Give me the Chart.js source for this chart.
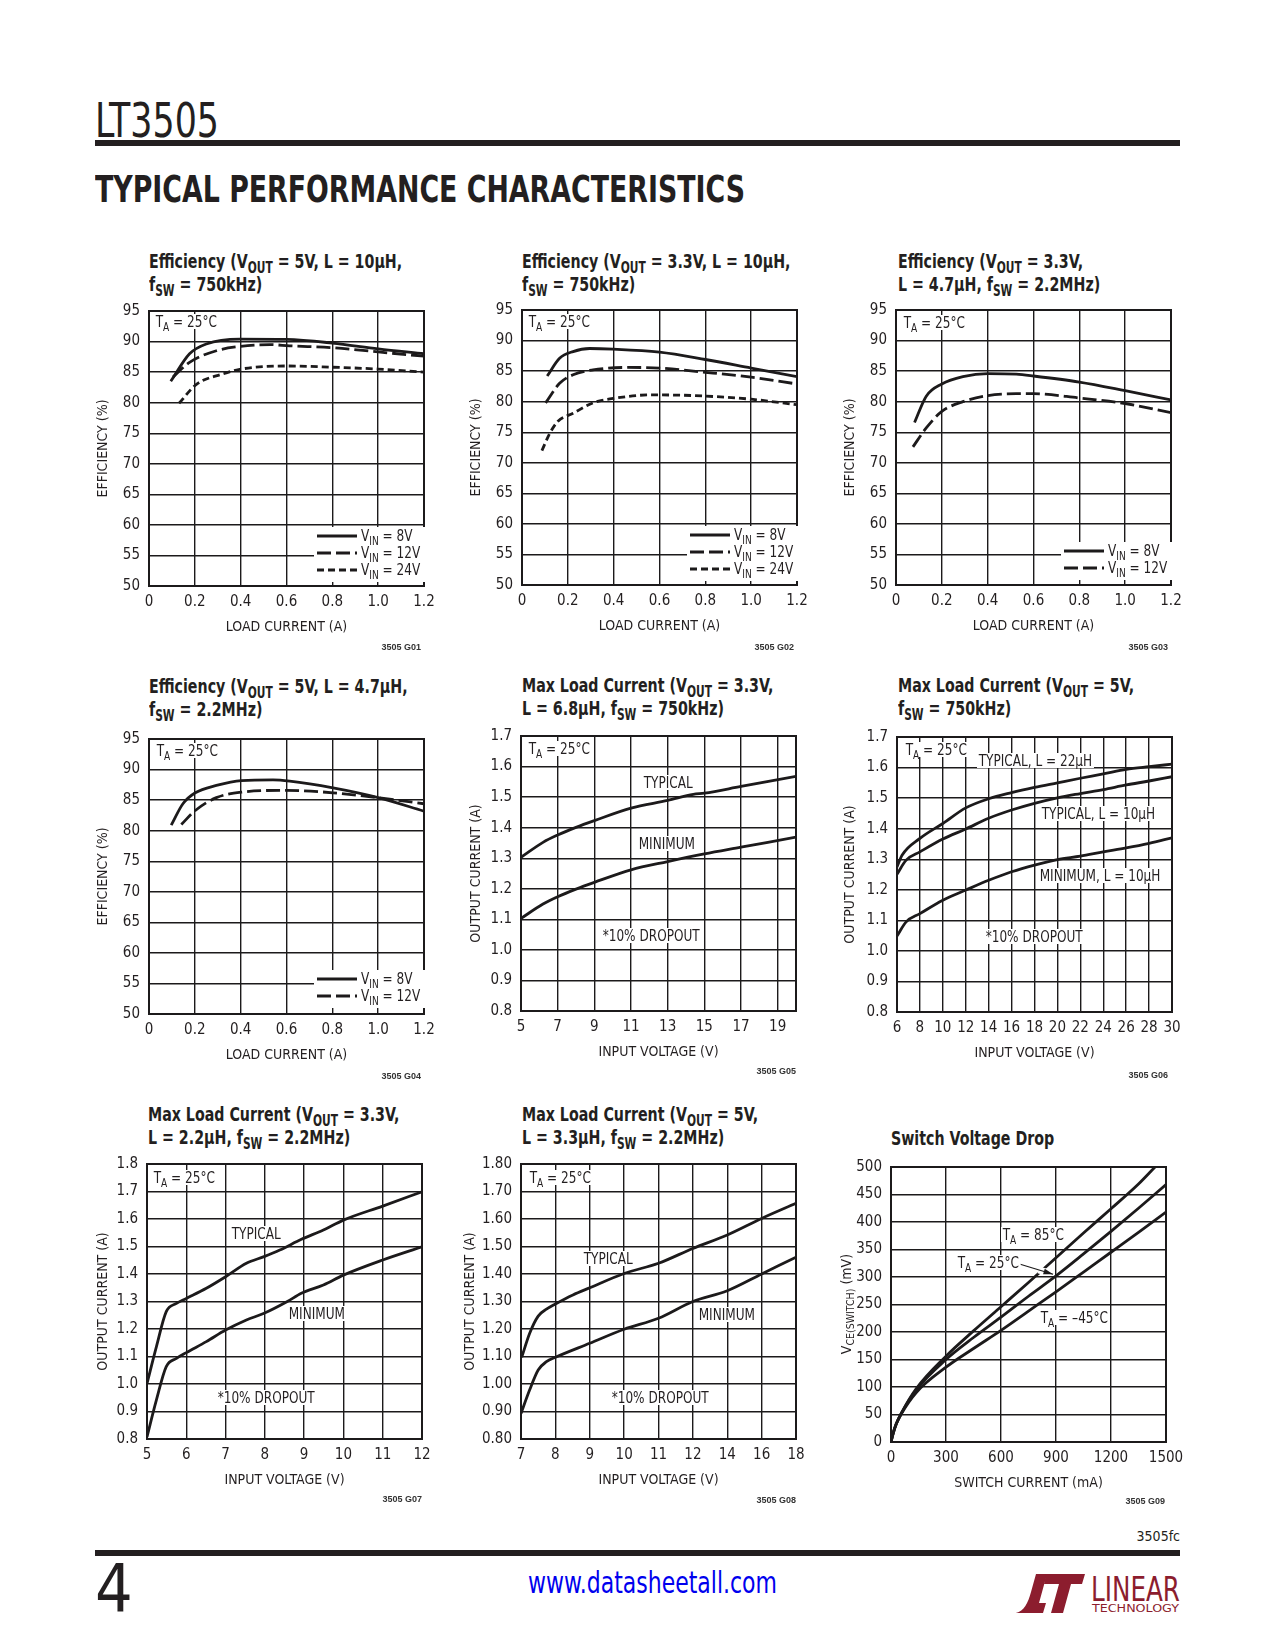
<!DOCTYPE html>
<html>
<head>
<meta charset="utf-8">
<script src="https://cdn.jsdelivr.net/npm/chart.js@4.4.0/dist/chart.umd.min.js"></script>
<style>
body { margin:0; background:#fff; width:1275px; height:1650px; position:relative; overflow:hidden;
       font-family:'Liberation Sans Narrow','DejaVu Sans Condensed','Arial Narrow',sans-serif; color:#231f20; }
.abs { position:absolute; white-space:nowrap; }
canvas { position:absolute; z-index:1; }
#over { position:absolute; left:0; top:0; width:1275px; height:1650px; z-index:10; }
sub { font-size:75%; vertical-align:-0.3em; line-height:0; }
.ttl { position:absolute; font-weight:bold; font-size:20px; line-height:23px; white-space:nowrap;
       transform:scaleX(0.79); transform-origin:0 0; }
.lab { position:absolute; font-size:16px; line-height:15px; background:#fff; padding:0 2px; white-space:nowrap;
       transform:scaleX(0.84); transform-origin:0 0; }
.leg { position:absolute; background:#fff; padding:0 3px 4px 3px; }
.leg div { height:17px; display:flex; align-items:center; font-size:16px; white-space:nowrap; }
.leg svg { margin-right:4px; flex:none; }
.leg span { display:inline-block; transform:scaleX(0.84); transform-origin:0 50%; margin-right:-8px; }
.fig { position:absolute; font-family:'Liberation Sans',Arial,sans-serif; font-weight:bold; font-size:9px; line-height:10px; color:#333; }
.ytl { position:absolute; font-size:14px; white-space:nowrap; transform:translate(-50%,-50%) rotate(-90deg); }
</style>
</head>
<body>

<div id="hdr" class="abs" style="left:95px;top:96px;font-size:48px;line-height:48px;">LT3505</div>
<div class="abs" style="left:95px;top:140px;width:1085px;height:6px;background:#231f20"></div>
<div id="sect" class="abs" style="left:95px;top:170px;font-family:'DejaVu Sans Condensed','DejaVu Sans',sans-serif;font-weight:bold;font-size:38px;line-height:38px;transform-origin:0 0;">TYPICAL PERFORMANCE CHARACTERISTICS</div>

<!-- chart titles -->
<div class="ttl" style="left:149px;top:250px">Efficiency (V<sub>OUT</sub> = 5V, L = 10µH,<br>f<sub>SW</sub> = 750kHz)</div>
<div class="ttl" style="left:522px;top:250px">Efficiency (V<sub>OUT</sub> = 3.3V, L = 10µH,<br>f<sub>SW</sub> = 750kHz)</div>
<div class="ttl" style="left:898px;top:250px">Efficiency (V<sub>OUT</sub> = 3.3V,<br>L = 4.7µH, f<sub>SW</sub> = 2.2MHz)</div>
<div class="ttl" style="left:149px;top:675px">Efficiency (V<sub>OUT</sub> = 5V, L = 4.7µH,<br>f<sub>SW</sub> = 2.2MHz)</div>
<div class="ttl" style="left:522px;top:674px">Max Load Current (V<sub>OUT</sub> = 3.3V,<br>L = 6.8µH, f<sub>SW</sub> = 750kHz)</div>
<div class="ttl" style="left:898px;top:674px">Max Load Current (V<sub>OUT</sub> = 5V,<br>f<sub>SW</sub> = 750kHz)</div>
<div class="ttl" style="left:148px;top:1103px">Max Load Current (V<sub>OUT</sub> = 3.3V,<br>L = 2.2µH, f<sub>SW</sub> = 2.2MHz)</div>
<div class="ttl" style="left:522px;top:1103px">Max Load Current (V<sub>OUT</sub> = 5V,<br>L = 3.3µH, f<sub>SW</sub> = 2.2MHz)</div>
<div class="ttl" style="left:891px;top:1127px">Switch Voltage Drop</div>

<canvas id="c1"></canvas><canvas id="c2"></canvas><canvas id="c3"></canvas>
<canvas id="c4"></canvas><canvas id="c5"></canvas><canvas id="c6"></canvas>
<canvas id="c7"></canvas><canvas id="c8"></canvas><canvas id="c9"></canvas>

<div id="over">
<!-- annotations -->
<div class="lab" style="left:154px;top:314px">T<sub>A</sub> = 25°C</div>
<div class="lab" style="left:527px;top:314px">T<sub>A</sub> = 25°C</div>
<div class="lab" style="left:902px;top:315px">T<sub>A</sub> = 25°C</div>
<div class="lab" style="left:155px;top:743px">T<sub>A</sub> = 25°C</div>
<div class="lab" style="left:527px;top:741px">T<sub>A</sub> = 25°C</div>
<div class="lab" style="left:904px;top:742px">T<sub>A</sub> = 25°C</div>
<div class="lab" style="left:152px;top:1170px">T<sub>A</sub> = 25°C</div>
<div class="lab" style="left:528px;top:1170px">T<sub>A</sub> = 25°C</div>

<div class="lab" style="left:642px;top:775px">TYPICAL</div>
<div class="lab" style="left:637px;top:836px">MINIMUM</div>
<div class="lab" style="left:601px;top:928px">*10% DROPOUT</div>

<div class="lab" style="left:977px;top:753px">TYPICAL, L = 22µH</div>
<div class="lab" style="left:1040px;top:806px">TYPICAL, L = 10µH</div>
<div class="lab" style="left:1038px;top:868px">MINIMUM, L = 10µH</div>
<div class="lab" style="left:984px;top:929px">*10% DROPOUT</div>

<div class="lab" style="left:230px;top:1226px">TYPICAL</div>
<div class="lab" style="left:287px;top:1306px">MINIMUM</div>
<div class="lab" style="left:216px;top:1390px">*10% DROPOUT</div>

<div class="lab" style="left:582px;top:1251px">TYPICAL</div>
<div class="lab" style="left:697px;top:1307px">MINIMUM</div>
<div class="lab" style="left:610px;top:1390px">*10% DROPOUT</div>

<div class="lab" style="left:1001px;top:1227px">T<sub>A</sub> = 85°C</div>
<div class="lab" style="left:956px;top:1255px">T<sub>A</sub> = 25°C</div>
<div class="lab" style="left:1039px;top:1310px">T<sub>A</sub> = –45°C</div>

<div class="ytl" style="left:846px;top:1304px">V<sub>CE(SWITCH)</sub> (mV)</div>

<!-- legends -->
<div class="leg" style="left:314px;top:527px">
  <div><svg width="40" height="4"><line x1="0" y1="2" x2="40" y2="2" stroke="#1c1a1b" stroke-width="3"/></svg><span>V<sub>IN</sub> = 8V</span></div>
  <div><svg width="40" height="4"><line x1="0" y1="2" x2="40" y2="2" stroke="#1c1a1b" stroke-width="3" stroke-dasharray="14 5"/></svg><span>V<sub>IN</sub> = 12V</span></div>
  <div><svg width="40" height="4"><line x1="0" y1="2" x2="40" y2="2" stroke="#1c1a1b" stroke-width="3" stroke-dasharray="7 4"/></svg><span>V<sub>IN</sub> = 24V</span></div>
</div>
<div class="leg" style="left:687px;top:526px">
  <div><svg width="40" height="4"><line x1="0" y1="2" x2="40" y2="2" stroke="#1c1a1b" stroke-width="3"/></svg><span>V<sub>IN</sub> = 8V</span></div>
  <div><svg width="40" height="4"><line x1="0" y1="2" x2="40" y2="2" stroke="#1c1a1b" stroke-width="3" stroke-dasharray="14 5"/></svg><span>V<sub>IN</sub> = 12V</span></div>
  <div><svg width="40" height="4"><line x1="0" y1="2" x2="40" y2="2" stroke="#1c1a1b" stroke-width="3" stroke-dasharray="7 4"/></svg><span>V<sub>IN</sub> = 24V</span></div>
</div>
<div class="leg" style="left:1061px;top:542px">
  <div><svg width="40" height="4"><line x1="0" y1="2" x2="40" y2="2" stroke="#1c1a1b" stroke-width="3"/></svg><span>V<sub>IN</sub> = 8V</span></div>
  <div><svg width="40" height="4"><line x1="0" y1="2" x2="40" y2="2" stroke="#1c1a1b" stroke-width="3" stroke-dasharray="14 5"/></svg><span>V<sub>IN</sub> = 12V</span></div>
</div>
<div class="leg" style="left:314px;top:970px">
  <div><svg width="40" height="4"><line x1="0" y1="2" x2="40" y2="2" stroke="#1c1a1b" stroke-width="3"/></svg><span>V<sub>IN</sub> = 8V</span></div>
  <div><svg width="40" height="4"><line x1="0" y1="2" x2="40" y2="2" stroke="#1c1a1b" stroke-width="3" stroke-dasharray="14 5"/></svg><span>V<sub>IN</sub> = 12V</span></div>
</div>

<!-- figure numbers -->
<div class="fig" style="right:854px;top:642px">3505 G01</div>
<div class="fig" style="right:481px;top:642px">3505 G02</div>
<div class="fig" style="right:107px;top:642px">3505 G03</div>
<div class="fig" style="right:854px;top:1071px">3505 G04</div>
<div class="fig" style="right:479px;top:1066px">3505 G05</div>
<div class="fig" style="right:107px;top:1070px">3505 G06</div>
<div class="fig" style="right:853px;top:1494px">3505 G07</div>
<div class="fig" style="right:479px;top:1495px">3505 G08</div>
<div class="fig" style="right:110px;top:1496px">3505 G09</div>
</div>

<!-- footer -->
<div class="abs" style="right:95px;top:1529px;font-size:14px;line-height:14px">3505fc</div>
<div class="abs" style="left:95px;top:1550px;width:1085px;height:6px;background:#231f20"></div>
<div class="abs" style="left:95px;top:1556px;font-size:66px;line-height:66px">4</div>
<div id="url" class="abs" style="left:528px;top:1568px;font-size:30px;line-height:30px;color:#0000ee;transform-origin:0 0">www.datasheetall.com</div>
<svg class="abs" style="left:1015px;top:1570px" width="166" height="44">
  <path d="M1,43 C9,41 13,33 16,22 L21,4 L32,4 L24,33 L31,33 L28,43 Z" fill="#8c1d2e"/>
  <path d="M31,4 L70,4 L67,14 L56,14 L48,43 L36,43 L44,14 L29,14 Z" fill="#8c1d2e"/>
  <text x="76" y="31" font-family="'Liberation Sans Narrow','DejaVu Sans Condensed',sans-serif" font-size="33" fill="#8c1d2e" textLength="89" lengthAdjust="spacingAndGlyphs">LINEAR</text>
  <text x="77" y="42" font-family="'Liberation Sans Narrow','DejaVu Sans Condensed',sans-serif" font-size="10" fill="#8c1d2e" textLength="87" lengthAdjust="spacingAndGlyphs">TECHNOLOGY</text>
</svg>

<script>
// ---- G01: efficiency, VOUT = 5V, L = 10uH, 750kHz
const g01Load8 = [0.095, 0.177, 0.25, 0.396, 0.6, 0.8, 1.0, 1.2];
const g01Eff8 = [83.5, 88.0, 89.6, 90.4, 90.35, 89.75, 88.8, 88.0];
const g01Load12 = [0.105, 0.177, 0.294, 0.396, 0.527, 0.614, 0.8, 1.0, 1.2];
const g01Eff12 = [84.2, 86.6, 88.5, 89.2, 89.5, 89.3, 89.0, 88.3, 87.6];
const g01Load24 = [0.131, 0.207, 0.323, 0.403, 0.6, 0.8, 1.0, 1.2];
const g01Eff24 = [79.9, 83.0, 84.7, 85.5, 86.0, 85.8, 85.5, 85.0];

// ---- G02: efficiency, VOUT = 3.3V, L = 10uH, 750kHz
const g02Load8 = [0.11, 0.164, 0.223, 0.295, 0.397, 0.6, 0.8, 1.0, 1.2];
const g02Eff8 = [84.2, 87.1, 88.2, 88.7, 88.6, 88.1, 86.9, 85.5, 84.1];
const g02Load12 = [0.103, 0.164, 0.223, 0.31, 0.455, 0.6, 0.8, 1.0, 1.2];
const g02Eff12 = [79.8, 83.0, 84.4, 85.2, 85.6, 85.5, 84.8, 84.0, 82.9];
const g02Load24 = [0.087, 0.121, 0.157, 0.223, 0.31, 0.412, 0.557, 0.746, 1.0, 1.2];
const g02Eff24 = [72.0, 74.8, 76.8, 78.1, 79.8, 80.6, 81.1, 81.0, 80.4, 79.5];

// ---- G03: efficiency, VOUT = 3.3V, L = 4.7uH, 2.2MHz
const g03Load8 = [0.081, 0.132, 0.2, 0.292, 0.401, 0.525, 0.6, 0.8, 1.0, 1.2];
const g03Eff8 = [76.6, 80.9, 82.9, 84.1, 84.6, 84.5, 84.2, 83.2, 81.8, 80.3];
const g03Load12 = [0.074, 0.132, 0.2, 0.292, 0.401, 0.525, 0.6, 0.8, 1.0, 1.2];
const g03Eff12 = [72.6, 75.7, 78.4, 80.0, 81.0, 81.3, 81.3, 80.6, 79.7, 78.2];

// ---- G04: efficiency, VOUT = 5V, L = 4.7uH, 2.2MHz
const g04Load8 = [0.097, 0.148, 0.202, 0.294, 0.403, 0.541, 0.614, 0.803, 1.0, 1.2];
const g04Eff8 = [80.9, 84.4, 86.2, 87.4, 88.2, 88.3, 88.1, 87.0, 85.4, 83.2];
const g04Load12 = [0.141, 0.202, 0.294, 0.403, 0.6, 0.803, 1.0, 1.2];
const g04Eff12 = [81.0, 83.3, 85.4, 86.3, 86.6, 86.2, 85.4, 84.4];

// ---- G05: max load current, VOUT = 3.3V, L = 6.8uH, 750kHz
const g05Vin = [5, 6.2, 7, 8, 9, 11, 13, 14.4, 15, 17, 20];
const g05Typ = [1.303, 1.352, 1.376, 1.401, 1.423, 1.464, 1.489, 1.509, 1.513, 1.535, 1.568];
const g05VinMin = [5, 6.2, 7, 8, 9, 11, 13, 15, 17, 20];
const g05Min = [1.103, 1.15, 1.174, 1.199, 1.221, 1.262, 1.289, 1.314, 1.336, 1.369];

// ---- G06: max load current, VOUT = 5V, 750kHz
const g06Vin22 = [6, 6.44, 8, 10, 12, 14, 16, 18, 20, 22, 24, 26, 28, 30];
const g06Typ22 = [1.275, 1.313, 1.368, 1.417, 1.468, 1.498, 1.518, 1.535, 1.55, 1.565, 1.579, 1.594, 1.603, 1.611];
const g06Vin10 = [6, 6.8, 8, 10, 12, 14, 16, 18, 20, 22, 24, 26, 28, 30];
const g06Typ10 = [1.251, 1.297, 1.324, 1.366, 1.399, 1.434, 1.461, 1.483, 1.501, 1.515, 1.528, 1.543, 1.556, 1.570];
const g06Min10 = [1.049, 1.095, 1.122, 1.166, 1.199, 1.231, 1.259, 1.281, 1.299, 1.31, 1.324, 1.337, 1.352, 1.370];

// ---- G07: max load current, VOUT = 3.3V, L = 2.2uH, 2.2MHz
const g07VinTyp = [5, 5.24, 5.49, 5.75, 6, 6.51, 7, 7.53, 7.98, 8.38, 8.93, 9.49, 10, 11, 12];
const g07Typ = [1.002, 1.136, 1.263, 1.293, 1.311, 1.348, 1.39, 1.439, 1.463, 1.487, 1.526, 1.56, 1.596, 1.647, 1.699];
const g07VinMin = [5, 5.24, 5.49, 5.75, 6, 6.51, 7, 7.53, 7.98, 8.56, 8.93, 9.49, 10, 11, 12];
const g07Min = [0.808, 0.942, 1.063, 1.093, 1.114, 1.154, 1.196, 1.233, 1.257, 1.299, 1.33, 1.36, 1.396, 1.451, 1.499];

// ---- G08: max load current, VOUT = 5V, L = 3.3uH, 2.2MHz (uneven voltage axis)
const g08VinTyp = [7.02, 7.25, 7.5, 7.74, 8, 8.51, 9, 10, 11, 12, 14, 16, 18];
const g08Typ = [1.097, 1.184, 1.247, 1.272, 1.291, 1.324, 1.35, 1.402, 1.439, 1.493, 1.542, 1.602, 1.657];
const g08VinMin = [7, 7.25, 7.5, 7.74, 8, 9, 10, 11, 12, 14, 16, 18];
const g08Min = [0.893, 0.978, 1.051, 1.081, 1.097, 1.148, 1.199, 1.239, 1.3, 1.339, 1.4, 1.461];

// ---- G09: switch voltage drop
const g09I85 = [0, 11, 29, 56, 138, 300, 450, 600, 750, 900, 1050, 1200, 1350, 1440];
const g09V85 = [0, 15, 33, 52, 97, 156, 202, 246, 290, 335, 380, 424, 469, 500];
const g09I = [0, 11, 29, 56, 138, 300, 450, 600, 750, 900, 1050, 1200, 1350, 1500];
const g09V25 = [0, 15, 33, 52, 95, 150, 190, 227, 265, 302, 342, 383, 425, 468];
const g09Vm45 = [0, 15, 33, 51, 90, 136, 170, 203, 238, 273, 309, 345, 381, 418];
const g09ArrowFrom = [687, 325];
const g09ArrowTo = [884, 305];

// ---- ticks
const effTicksX = [0, 0.2, 0.4, 0.6, 0.8, 1.0, 1.2];
const effLabelsX = ['0', '0.2', '0.4', '0.6', '0.8', '1.0', '1.2'];
const effTicksY = [50, 55, 60, 65, 70, 75, 80, 85, 90, 95];
const g05TicksX = [5, 7, 9, 11, 13, 15, 17, 19];
const g06TicksX = [6, 8, 10, 12, 14, 16, 18, 20, 22, 24, 26, 28, 30];
const g07TicksX = [5, 6, 7, 8, 9, 10, 11, 12];
const g08LabelsX = ['7', '8', '9', '10', '11', '12', '14', '16', '18'];
const curTicks17 = [0.8, 0.9, 1.0, 1.1, 1.2, 1.3, 1.4, 1.5, 1.6, 1.7];
const curTicks18 = [0.8, 0.9, 1.0, 1.1, 1.2, 1.3, 1.4, 1.5, 1.6, 1.7, 1.8];
const g09TicksX = [0, 300, 600, 900, 1200, 1500];
const g09TicksY = [0, 50, 100, 150, 200, 250, 300, 350, 400, 450, 500];

Chart.defaults.font.family = "'Liberation Sans Narrow','DejaVu Sans Condensed','Arial Narrow',sans-serif";
Chart.defaults.color = '#231f20';

const INK = '#1c1a1b';
const SOLID = [], LONG = [14, 5], SHORT = [7, 4];

// keep the grid out from under the text boxes (labels and legends)
const maskPlugin = {
    id: 'mask',
    beforeDraw(chart) {
        const ctx = chart.ctx;
        const cr = chart.canvas.getBoundingClientRect();
        ctx.save();
        ctx.beginPath();
        ctx.rect(0, 0, chart.width, chart.height);
        document.querySelectorAll('.lab, .leg').forEach(el => {
            const r = el.getBoundingClientRect();
            if (r.right < cr.left || r.left > cr.right || r.bottom < cr.top || r.top > cr.bottom) return;
            ctx.rect(r.left - cr.left, r.top - cr.top, r.width, r.height);
        });
        ctx.clip('evenodd');
    },
    beforeDatasetsDraw(chart) {
        chart.ctx.restore();
    }
};

// box round the plot area
const framePlugin = {
    id: 'frame',
    afterDatasetsDraw(chart) {
        const a = chart.chartArea, ctx = chart.ctx;
        ctx.save();
        ctx.strokeStyle = INK;
        ctx.lineWidth = 2;
        ctx.strokeRect(a.left, a.top, a.right - a.left, a.bottom - a.top);
        ctx.restore();
    }
};

// arrow from the 25C label to its curve
const arrowPlugin = {
    id: 'arrow',
    afterDatasetsDraw(chart) {
        const xs = chart.scales.x, ys = chart.scales.y, ctx = chart.ctx;
        const x1 = xs.getPixelForValue(g09ArrowFrom[0]), y1 = ys.getPixelForValue(g09ArrowFrom[1]);
        const x2 = xs.getPixelForValue(g09ArrowTo[0]), y2 = ys.getPixelForValue(g09ArrowTo[1]);
        ctx.save();
        ctx.globalCompositeOperation = 'destination-out';
        ctx.lineWidth = 7;
        ctx.beginPath();
        ctx.moveTo(x1 + (x2 - x1) * 0.6, y1 + (y2 - y1) * 0.6);
        ctx.lineTo(x1 + (x2 - x1) * 0.85, y1 + (y2 - y1) * 0.85);
        ctx.stroke();
        ctx.globalCompositeOperation = 'source-over';
        ctx.strokeStyle = INK;
        ctx.fillStyle = INK;
        ctx.lineWidth = 1.2;
        ctx.beginPath();
        ctx.moveTo(x1, y1);
        ctx.lineTo(x2, y2);
        ctx.stroke();
        const ang = Math.atan2(y2 - y1, x2 - x1);
        ctx.beginPath();
        ctx.moveTo(x2, y2);
        ctx.lineTo(x2 - 10 * Math.cos(ang - 0.3), y2 - 10 * Math.sin(ang - 0.3));
        ctx.lineTo(x2 - 10 * Math.cos(ang + 0.3), y2 - 10 * Math.sin(ang + 0.3));
        ctx.closePath();
        ctx.fill();
        ctx.restore();
    }
};

// piecewise map for the uneven G08 voltage axis
const g08TickVolts = g08LabelsX.map(Number);
function g08Pos(v) {
    for (let i = 0; i < g08TickVolts.length - 1; i++) {
        const a = g08TickVolts[i], b = g08TickVolts[i + 1];
        if (v <= b) return i + (v - a) / (b - a);
    }
    return g08TickVolts.length - 1;
}

function plot(id, left, top, cfg) {
    const cv = document.getElementById(id);
    cv.width = 359;
    cv.height = 337;
    cv.style.left = (left - 62) + 'px';
    cv.style.top = (top - 12) + 'px';

    const lines = cfg.series.map(s => ({
        data: s.x.map((v, i) => ({ x: cfg.xMap ? cfg.xMap(v) : v, y: s.y[i] })),
        borderColor: INK,
        borderWidth: 2.8,
        borderDash: s.dash,
        pointRadius: 0,
        cubicInterpolationMode: 'monotone',
        fill: false
    }));

    return new Chart(cv, {
        type: 'line',
        data: { datasets: lines },
        options: {
            responsive: false,
            animation: false,
            devicePixelRatio: 1,
            layout: { padding: { top: 12, right: 22, left: 0, bottom: 0 } },
            plugins: { legend: { display: false }, tooltip: { enabled: false } },
            scales: {
                x: {
                    type: 'linear', min: cfg.xMin, max: cfg.xMax,
                    afterBuildTicks: s => { s.ticks = cfg.xTicks.map(v => ({ value: v })); },
                    afterFit: s => { s.height = 50; s.paddingLeft = 0; s.paddingRight = 0; },
                    grid: { color: INK, lineWidth: 1.4, drawTicks: false },
                    border: { display: false },
                    ticks: { padding: 7, font: { size: 15 }, maxRotation: 0, autoSkip: false,
                             callback: (v, i) => cfg.xLabels[i] },
                    title: { display: true, text: cfg.xTitle, font: { size: 14 }, padding: { top: 5, bottom: 0 } }
                },
                y: {
                    type: 'linear', min: cfg.yMin, max: cfg.yMax,
                    afterBuildTicks: s => { s.ticks = cfg.yTicks.map(v => ({ value: v })); },
                    afterFit: s => { s.width = 62; s.paddingTop = 0; s.paddingBottom = 0; },
                    grid: { color: INK, lineWidth: 1.4, drawTicks: false },
                    border: { display: false },
                    ticks: { padding: 9, font: { size: 15 }, autoSkip: false,
                             callback: (v, i) => cfg.yLabels[i] },
                    title: { display: !!cfg.yTitle, text: cfg.yTitle || '', font: { size: 14 },
                             padding: { top: 62 - (cfg.yTitleOff || 46) - 8.4, bottom: 0 } }
                }
            }
        },
        plugins: [maskPlugin, framePlugin].concat(cfg.plugins || [])
    });
}

const effY = { yMin: 50, yMax: 95, yTicks: effTicksY, yLabels: effTicksY.map(String), yTitle: 'EFFICIENCY (%)' };
const effX = { xMin: 0, xMax: 1.2, xTicks: effTicksX, xLabels: effLabelsX, xTitle: 'LOAD CURRENT (A)' };
const lab1 = t => t.map(v => v.toFixed(1));

plot('c1', 149, 311, Object.assign({}, effX, effY, { series: [
    { x: g01Load8, y: g01Eff8, dash: SOLID },
    { x: g01Load12, y: g01Eff12, dash: LONG },
    { x: g01Load24, y: g01Eff24, dash: SHORT } ] }));

plot('c2', 522, 310, Object.assign({}, effX, effY, { series: [
    { x: g02Load8, y: g02Eff8, dash: SOLID },
    { x: g02Load12, y: g02Eff12, dash: LONG },
    { x: g02Load24, y: g02Eff24, dash: SHORT } ] }));

plot('c3', 896, 310, Object.assign({}, effX, effY, { series: [
    { x: g03Load8, y: g03Eff8, dash: SOLID },
    { x: g03Load12, y: g03Eff12, dash: LONG } ] }));

plot('c4', 149, 739, Object.assign({}, effX, effY, { series: [
    { x: g04Load8, y: g04Eff8, dash: SOLID },
    { x: g04Load12, y: g04Eff12, dash: LONG } ] }));

plot('c5', 521, 736, {
    xMin: 5, xMax: 20, xTicks: g05TicksX, xLabels: g05TicksX.map(String), xTitle: 'INPUT VOLTAGE (V)',
    yMin: 0.8, yMax: 1.7, yTicks: curTicks17, yLabels: lab1(curTicks17), yTitle: 'OUTPUT CURRENT (A)', yTitleOff: 45,
    series: [
        { x: g05Vin, y: g05Typ, dash: SOLID },
        { x: g05VinMin, y: g05Min, dash: SOLID } ]
});

plot('c6', 897, 737, {
    xMin: 6, xMax: 30, xTicks: g06TicksX, xLabels: g06TicksX.map(String), xTitle: 'INPUT VOLTAGE (V)',
    yMin: 0.8, yMax: 1.7, yTicks: curTicks17, yLabels: lab1(curTicks17), yTitle: 'OUTPUT CURRENT (A)', yTitleOff: 47,
    series: [
        { x: g06Vin22, y: g06Typ22, dash: SOLID },
        { x: g06Vin10, y: g06Typ10, dash: SOLID },
        { x: g06Vin10, y: g06Min10, dash: SOLID } ]
});

plot('c7', 147, 1164, {
    xMin: 5, xMax: 12, xTicks: g07TicksX, xLabels: g07TicksX.map(String), xTitle: 'INPUT VOLTAGE (V)',
    yMin: 0.8, yMax: 1.8, yTicks: curTicks18, yLabels: lab1(curTicks18), yTitle: 'OUTPUT CURRENT (A)', yTitleOff: 44,
    series: [
        { x: g07VinTyp, y: g07Typ, dash: SOLID },
        { x: g07VinMin, y: g07Min, dash: SOLID } ]
});

plot('c8', 521, 1164, {
    xMin: 0, xMax: g08LabelsX.length - 1, xTicks: g08LabelsX.map((t, i) => i), xLabels: g08LabelsX,
    xTitle: 'INPUT VOLTAGE (V)', xMap: g08Pos,
    yMin: 0.8, yMax: 1.8, yTicks: curTicks18, yLabels: curTicks18.map(v => v.toFixed(2)),
    yTitle: 'OUTPUT CURRENT (A)', yTitleOff: 51,
    series: [
        { x: g08VinTyp, y: g08Typ, dash: SOLID },
        { x: g08VinMin, y: g08Min, dash: SOLID } ]
});

plot('c9', 891, 1167, {
    xMin: 0, xMax: 1500, xTicks: g09TicksX, xLabels: g09TicksX.map(String), xTitle: 'SWITCH CURRENT (mA)',
    yMin: 0, yMax: 500, yTicks: g09TicksY, yLabels: g09TicksY.map(String),
    series: [
        { x: g09I85, y: g09V85, dash: SOLID },
        { x: g09I, y: g09V25, dash: SOLID },
        { x: g09I, y: g09Vm45, dash: SOLID } ],
    plugins: [arrowPlugin]
});

// squeeze header texts to the widths in the datasheet
function fitWidth(id, w) {
    const el = document.getElementById(id);
    const r = el.getBoundingClientRect().width;
    el.style.transformOrigin = '0 0';
    el.style.transform = 'scaleX(' + (w / r) + ')';
}
fitWidth('sect', 650);
fitWidth('hdr', 124);
fitWidth('url', 249);
</script>
</body>
</html>
